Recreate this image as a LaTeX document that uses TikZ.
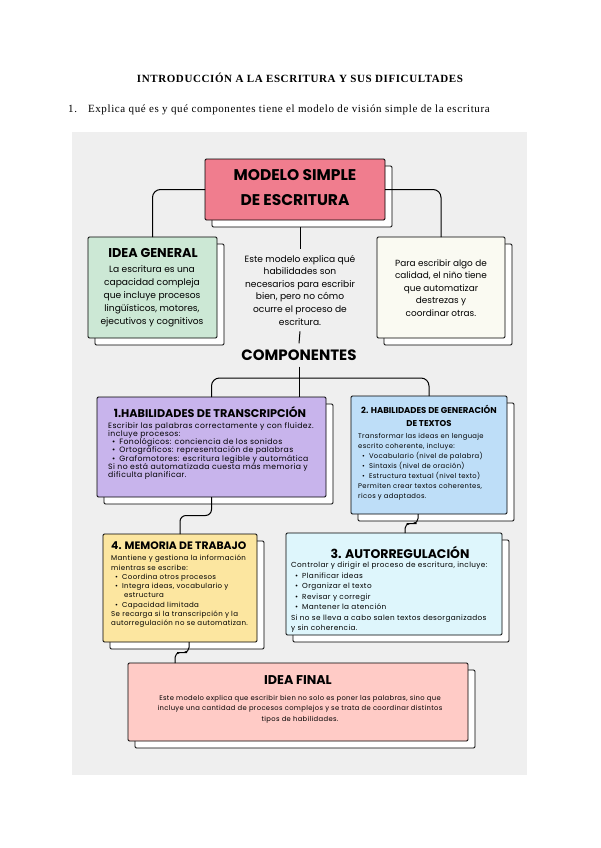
\documentclass[tikz,border=0pt]{standalone}
\usepackage{fontspec}
\setmainfont{Poppins}
\newfontfamily\hdrfont{Liberation Serif}[LetterSpace=5.5]
\newfontfamily\bodyls{Poppins}[LetterSpace=5.0]
\usetikzlibrary{shadows,calc}
\definecolor{bgc}{RGB}{239,239,239}
\definecolor{pinkT}{RGB}{240,125,142}
\definecolor{greenG}{RGB}{204,232,213}
\definecolor{creamR}{RGB}{250,250,242}
\definecolor{lav}{RGB}{200,180,236}
\definecolor{blueB}{RGB}{190,222,248}
\definecolor{cyanC}{RGB}{222,246,252}
\definecolor{yelY}{RGB}{252,230,160}
\definecolor{salmonS}{RGB}{255,203,198}
\newcommand{\itm}{\hspace*{4pt}\textbullet\hspace{4pt}}
\newcommand{\fs}[2]{\fontsize{#1}{#2}\selectfont}
\tikzset{
 box/.style={draw=black, line width=0.9pt, rounded corners=1.2pt, inner sep=0pt, outer sep=0pt, anchor=north west,
   drop shadow={shadow xshift=7pt, shadow yshift=-7pt, fill=white, draw=black, line width=0.9pt, opacity=1}},
 conn/.style={draw=black, line width=1pt, rounded corners=8pt},
 hd/.style={inner sep=0pt, font=\bfseries\fs{12}{14}},
 body/.style={inner sep=0pt, align=left, anchor=north west},
}
\begin{document}
\begin{tikzpicture}[x=1pt,y=-1pt]
\useasboundingbox (0,0) rectangle (600,848);
\fill[white] (0,0) rectangle (600,848);
\fill[bgc] (72,132) rectangle (527,775);

\node[font=\hdrfont\bfseries\fs{11}{13}] (hdr) at (300,78) {INTRODUCCIÓN A LA ESCRITURA Y SUS DIFICULTADES};
\node[font=\hdrfont\fs{11}{13}, anchor=west, inner sep=0pt] (q1) at (68,110) {1.\hspace{11pt}Explica qué es y qué componentes tiene el modelo de visión simple de la escritura};

% boxes
\node[box, fill=pinkT, minimum width=180pt, minimum height=61pt] (t) at (205,159) {};
\node[box, fill=greenG, minimum width=129pt, minimum height=101pt] (g) at (88,237) {};
\node[box, fill=creamR, minimum width=128pt, minimum height=101pt] (r) at (377,237) {};
\node[box, fill=lav, minimum width=229pt, minimum height=100pt] (b1) at (97,397) {};
\node[box, fill=blueB, minimum width=156pt, minimum height=118pt] (b2) at (351,396) {};
\node[box, fill=yelY, minimum width=154pt, minimum height=108pt] (b4) at (103,534) {};
\node[box, fill=cyanC, minimum width=216pt, minimum height=102pt] (b3) at (286,533) {};
\node[box, fill=salmonS, minimum width=340pt, minimum height=78pt] (fin) at (128,663) {};

% texts
\node[hd, font=\bfseries\fs{15.5}{25}, align=center] (tt) at (295,188) {MODELO SIMPLE\\DE ESCRITURA};
\node[hd, font=\bfseries\fs{12.8}{14}] (gt) at (153,253) {IDEA GENERAL};
\node[align=center, inner sep=0pt, font=\fs{9.1}{13}] (gb) at (152,296) {La escritura es una\\capacidad compleja\\que incluye procesos\\lingüísticos, motores,\\ejecutivos y cognitivos};
\node[align=center, inner sep=6pt, font=\fs{9.1}{12.6}] (mt) at (300,290) {Este modelo explica qué\\habilidades son\\necesarios para escribir\\bien, pero no cómo\\ocurre el proceso de\\escritura.};
\node[align=center, inner sep=0pt, font=\fs{8.9}{12.5}] (rt) at (441,288) {Para escribir algo de\\calidad, el niño tiene\\que automatizar\\destrezas y\\coordinar otras.};
\node[hd, font=\bfseries\fs{15}{17}, inner sep=6pt] (comp) at (299,355) {COMPONENTES};

\node[hd, font=\bfseries\fs{11.2}{12}] (b1t) at (210,412) {1.HABILIDADES DE TRANSCRIPCIÓN};
\node[body, font=\bodyls\fs{7.7}{8.3}] (b1b) at (108,422) {Escribir las palabras correctamente y con fluidez.\\incluye procesos:\\\itm Fonológicos: conciencia de los sonidos\\\itm Ortográficos: representación de palabras\\\itm Grafomotores: escritura legible y automática\\Si no está automatizada cuesta más memoria y\\dificulta planificar.};

\node[hd, align=center, font=\bfseries\fs{8.5}{13}] (b2t) at (429,416) {2. HABILIDADES DE GENERACIÓN\\DE TEXTOS};
\node[body, font=\bodyls\fs{6.8}{10}] (b2b) at (358,433) {Transformar las ideas en lenguaje\\escrito coherente, incluye:\\\itm Vocabulario (nivel de palabra)\\\itm Sintaxis (nivel de oración)\\\itm Estructura textual (nivel texto)\\Permiten crear textos coherentes,\\ricos y adaptados.};

\node[hd, anchor=west, font=\bfseries\fs{10.8}{12}] (b4t) at (111,546) {4. MEMORIA DE TRABAJO};
\node[body, font=\bodyls\fs{7.05}{9.3}] (b4b) at (111,555) {Mantiene y gestiona la información\\mientras se escribe:\\\itm Coordina otros procesos\\\itm Integra ideas, vocabulario y\\\hspace*{13pt}estructura\\\itm Capacidad limitada\\Se recarga si la transcripción y la\\autorregulación no se automatizan.};

\node[hd, font=\bfseries\fs{12.5}{14}] (b3t) at (400,552) {3. AUTORREGULACIÓN};
\node[body, font=\bodyls\fs{7.3}{10.5}] (b3b) at (291,562) {Controlar y dirigir el proceso de escritura, incluye:\\\itm Planificar ideas\\\itm Organizar el texto\\\itm Revisar y corregir\\\itm Mantener la atención\\Si no se lleva a cabo salen textos desorganizados\\y sin coherencia.};

\node[hd, font=\bfseries\fs{12.7}{14}] (ft) at (298,680) {IDEA FINAL};
\node[align=center, inner sep=0pt, font=\bodyls\fs{6.8}{10.5}] (fb) at (300,709) {Este modelo explica que escribir bien no solo es poner las palabras, sino que\\incluye una cantidad de procesos complejos y se trata de coordinar distintos\\tipos de habilidades.};

% connectors
\draw[conn] (t.west) -| (g.north);
\draw[conn] (t.east) -| (r.north);
\draw[conn] ([yshift=-7pt]mt.north |- t.south) -- (mt.north);
\draw[conn] (mt.south) -- (comp.north);
\draw[conn] (comp.south) -- (comp.south |- b1.north);
\coordinate (br) at (300,378);
\draw[conn] (b1.north) |- (br) -| (b2.north);
\draw[conn, rounded corners=6pt] (b1.south) |- ($(b1.south)!0.5!(b4.north)$) -| (b4.north);
\draw[conn, rounded corners=5pt] ([xshift=-11pt]b2.south) |- ($([xshift=-11pt]b2.south)!0.5!([xshift=11pt]b3.north)$) -| ([xshift=11pt]b3.north);
\draw[conn, rounded corners=5pt] ([xshift=9pt]b4.south) |- ($([xshift=9pt]b4.south)!0.5!([xshift=47pt]fin.north west)$) -| ([xshift=47pt]fin.north west);
\end{tikzpicture}
\end{document}
